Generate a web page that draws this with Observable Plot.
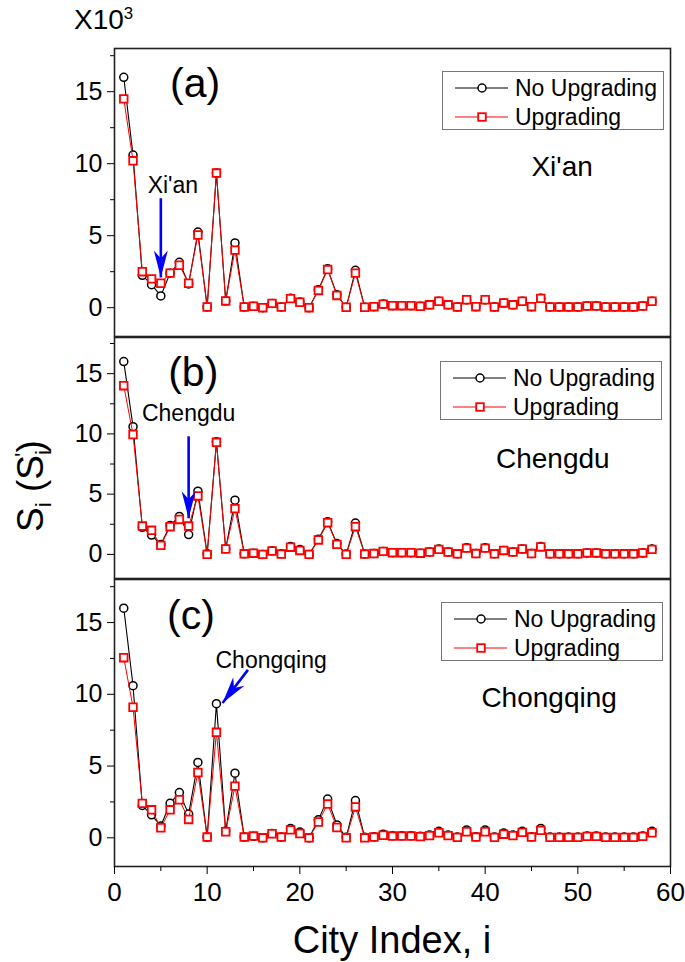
<!DOCTYPE html>
<html><head><meta charset="utf-8">
<script src="https://cdn.jsdelivr.net/npm/d3@7"></script>
<script src="https://cdn.jsdelivr.net/npm/@observablehq/plot@0.6"></script>
<style>
body{margin:0;background:#fff;font-family:"Liberation Sans",Arial,sans-serif;color:#000;}
#wrap{position:relative;width:685px;height:962px;overflow:hidden;background:#fff;}
.abs{position:absolute;white-space:nowrap;line-height:1;}
.legend{position:absolute;border:1px solid #777;background:#fff;width:222px;height:59px;box-sizing:border-box;}
sub,sup{font-size:0.6em;line-height:0;}
</style></head>
<body><div id="wrap"></div>
<script>
// City index (x) and values (×10^3)
const cityIndex = d3.range(1, 59);
const noUpgrading = [16.0,10.6,2.25,1.6,0.82,2.4,3.15,1.65,5.25,0.05,9.35,0.47,4.5,0.05,0.1,0.0,0.3,0.05,0.65,0.4,0.0,1.25,2.7,0.9,0.03,2.6,0.03,0.07,0.25,0.14,0.14,0.14,0.1,0.2,0.45,0.2,0.05,0.55,0.07,0.55,0.05,0.33,0.2,0.45,0.07,0.65,0.05,0.05,0.05,0.05,0.12,0.12,0.05,0.05,0.05,0.05,0.12,0.45];
const upgradingXian = [14.5,10.2,2.5,2.0,1.7,2.4,2.95,1.7,5.05,0.05,9.35,0.47,4.0,0.05,0.1,0.0,0.3,0.05,0.63,0.38,0.0,1.2,2.65,0.85,0.03,2.4,0.03,0.07,0.25,0.14,0.14,0.14,0.1,0.2,0.45,0.2,0.05,0.55,0.07,0.55,0.05,0.33,0.2,0.45,0.07,0.65,0.05,0.05,0.05,0.05,0.12,0.12,0.05,0.05,0.05,0.05,0.12,0.45];
const upgradingChengdu = [14.0,9.95,2.35,2.0,0.75,2.3,2.9,2.35,4.85,0.0,9.3,0.45,3.8,0.05,0.1,0.0,0.28,0.03,0.6,0.33,0.0,1.2,2.63,0.83,0.0,2.3,0.03,0.07,0.25,0.14,0.14,0.14,0.1,0.2,0.42,0.2,0.05,0.52,0.07,0.52,0.05,0.33,0.2,0.45,0.07,0.62,0.05,0.05,0.05,0.05,0.12,0.12,0.05,0.05,0.05,0.05,0.12,0.42];
const upgradingChongqing = [12.55,9.1,2.4,1.95,0.7,1.95,2.65,1.28,4.55,0.05,7.35,0.42,3.6,0.05,0.12,0.0,0.28,0.05,0.55,0.3,0.0,1.1,2.35,0.72,0.0,2.15,0.0,0.05,0.18,0.12,0.12,0.12,0.08,0.15,0.35,0.15,0.03,0.42,0.05,0.42,0.03,0.25,0.15,0.38,0.05,0.52,0.03,0.03,0.03,0.03,0.1,0.1,0.03,0.03,0.03,0.03,0.1,0.35];
const seriesNames = ["No Upgrading", "Upgrading"];
const panelLetters = ["(a)", "(b)", "(c)"];
const cityNames = ["Xi'an", "Chengdu", "Chongqing"];
const yTicks = [0, 5, 10, 15];
const yMinorTicks = [2.5, 7.5, 12.5, 17.5];
const xTicks = [0, 10, 20, 30, 40, 50, 60];
const xMinorTicks = [5, 15, 25, 35, 45, 55];

const FONT = "Liberation Sans, Arial, sans-serif";
const wrap = document.getElementById("wrap");

const arrowHead = {draw(ctx) {
  ctx.moveTo(0, 0); ctx.lineTo(-7, -27); ctx.lineTo(0, -19); ctx.lineTo(7, -27); ctx.closePath();
}};

function panel(cfg) {
  const base = cityIndex.map((i, k) => ({i, v: noUpgrading[k]}));
  const up = cityIndex.map((i, k) => ({i, v: cfg.up[k]}));
  const marks = [
    Plot.frame({stroke: "#222", strokeWidth: 1.6}),
    Plot.axisY({ticks: yTicks, tickSize: 7, tickPadding: 5, fontSize: 25, anchor: "left", label: null}),
    Plot.axisY({ticks: yMinorTicks, tickSize: 4, text: null, anchor: "left", label: null}),
    Plot.line(base, {x: "i", y: "v", stroke: "black", strokeWidth: 1.1}),
    Plot.dot(base, {x: "i", y: "v", r: 4, stroke: "black", strokeWidth: 1.5, fill: "white"}),
    Plot.line(up, {x: "i", y: "v", stroke: "red", strokeWidth: 1}),
    Plot.dot(up, {x: "i", y: "v", r: 4.3, symbol: "square", stroke: "red", strokeWidth: 1.8, fill: "white"}),
    Plot.text([cfg.letter], {x: cfg.letterPos[0], y: cfg.letterPos[1], text: d => d, fontSize: 41, textAnchor: "middle", lineAnchor: "bottom"}),
    Plot.text([cfg.city], {x: cfg.cityPos[0], y: cfg.cityPos[1], text: d => d, fontSize: 28, textAnchor: "middle", lineAnchor: "bottom"}),
    Plot.text([cfg.city], {x: cfg.notePos[0], y: cfg.notePos[1], text: d => d, fontSize: 23, textAnchor: "middle", lineAnchor: "bottom"}),
    Plot.link([cfg.arrow], {x1: d => d[0], y1: d => d[1], x2: d => d[2], y2: d => d[3], stroke: "blue", strokeWidth: 2.6}),
    Plot.dot([cfg.arrow], {x: d => d[2], y: d => d[3], symbol: arrowHead, r: 5, fill: "blue", stroke: "none", rotate: cfg.rot})
  ];
  if (cfg.showX) {
    marks.push(Plot.axisX({ticks: xTicks, tickSize: 8, tickPadding: 8, fontSize: 26, anchor: "bottom", label: null}));
    marks.push(Plot.axisX({ticks: xMinorTicks, tickSize: 5, text: null, anchor: "bottom", label: null}));
  }
  const svg = Plot.plot({
    width: 685, height: cfg.height,
    marginLeft: 114, marginRight: 15, marginTop: cfg.mt, marginBottom: cfg.mb,
    x: {domain: [0, 60], axis: cfg.showX ? undefined : null}, y: {domain: [-2, 18]},
    style: {fontFamily: FONT, background: "transparent", overflow: "visible", color: "black"},
    marks
  });
  svg.style.position = "absolute"; svg.style.left = "0px"; svg.style.top = cfg.top + "px";
  wrap.appendChild(svg);
  legend(cfg.legend[0], cfg.legend[1]);
}

function legend(left, top) {
  const d = document.createElement("div");
  d.className = "legend"; d.style.left = left + "px"; d.style.top = top + "px";
  d.innerHTML = `<svg width="222" height="59" style="position:absolute;left:-1px;top:-1px;font-family:${FONT}">
    <line x1="13" x2="66" y1="17" y2="17" stroke="black" stroke-width="1"/>
    <circle cx="40" cy="17" r="4" fill="white" stroke="black" stroke-width="1.5"/>
    <line x1="13" x2="66" y1="46" y2="46" stroke="red" stroke-width="1"/>
    <rect x="36.2" y="42.2" width="7.6" height="7.6" fill="white" stroke="red" stroke-width="1.8"/>
    <text x="73" y="25" font-size="23">${seriesNames[0]}</text>
    <text x="73" y="54" font-size="23">${seriesNames[1]}</text></svg>`;
  wrap.appendChild(d);
}

panel({up: upgradingXian, top: 0, height: 336, mt: 48, mb: 0, showX: false,
  letter: panelLetters[0], letterPos: [8.7, 14.6], city: cityNames[0], cityPos: [48.3, 9.16],
  notePos: [6.3, 7.95], arrow: [5, 7.6, 5, 2.1], rot: 0, legend: [442, 71]});
panel({up: upgradingChengdu, top: 336, height: 242, mt: 1, mb: 0, showX: false,
  letter: panelLetters[1], letterPos: [8.5, 13.95], city: cityNames[1], cityPos: [47.3, 7.14],
  notePos: [8.0, 11.07], arrow: [8.0, 9.8, 8.0, 3.0], rot: 0, legend: [440, 361]});
panel({up: upgradingChongqing, top: 578, height: 384, mt: 1, mb: 96, showX: true,
  letter: panelLetters[2], letterPos: [8.25, 14.55], city: cityNames[2], cityPos: [46.9, 9.13],
  notePos: [16.9, 11.84], arrow: [14.4, 11.7, 11.66, 9.39], rot: 37, legend: [441, 602]});

function addText(html, css) {
  const d = document.createElement("div"); d.className = "abs"; d.innerHTML = html;
  Object.assign(d.style, css); wrap.appendChild(d);
}
addText("X10<sup>3</sup>", {left: "74px", top: "6px", fontSize: "28px"});
addText("City Index, i", {left: "392px", top: "921px", fontSize: "38px", transform: "translateX(-50%)"});
addText("S<sub>i</sub> (S<sub>i</sub><sup style='margin-left:-0.3em'>'</sup>)", {left: "30px", top: "486px", fontSize: "37px", transform: "translate(-50%,-50%) rotate(-90deg)"});
</script></body></html>
